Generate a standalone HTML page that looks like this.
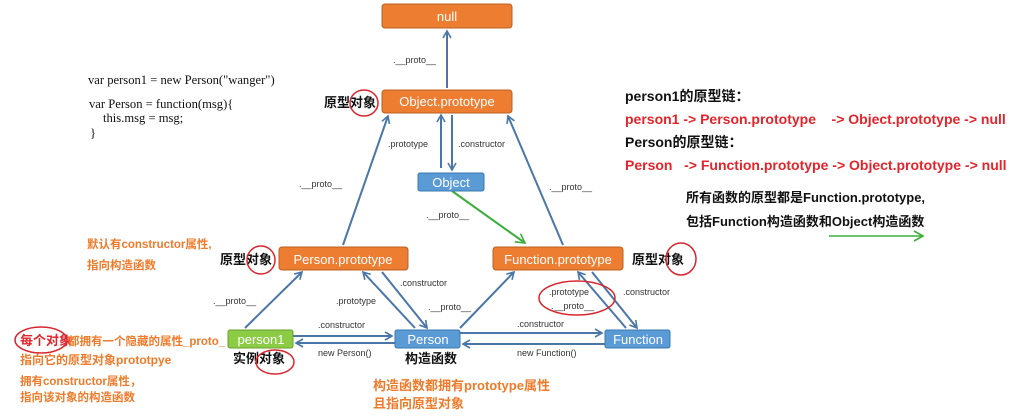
<!DOCTYPE html>
<html><head><meta charset="utf-8"><style>
body{margin:0;background:#fff}
svg text{font-family:"Liberation Sans","Noto Sans CJK SC",sans-serif}
</style></head><body>
<svg width="1017" height="414" viewBox="0 0 1017 414" xmlns="http://www.w3.org/2000/svg">
<defs>
<marker id="a" markerWidth="10" markerHeight="10" refX="8" refY="5" orient="auto" markerUnits="userSpaceOnUse"><path d="M1,1 L8,5 L1,9" fill="none" stroke="#4a76a8" stroke-width="1.6"/></marker>
<marker id="g" markerWidth="12" markerHeight="12" refX="10" refY="6" orient="auto" markerUnits="userSpaceOnUse"><path d="M1,1 L10,6 L1,11" fill="none" stroke="#3cae3c" stroke-width="1.6"/></marker>
</defs>
<g fill="none" stroke="#4a76a8" stroke-width="2" marker-end="url(#a)">
<line x1="447" y1="88" x2="447" y2="31"/>
<line x1="441" y1="168" x2="441" y2="115"/>
<line x1="452" y1="115" x2="452" y2="170"/>
<line x1="343" y1="245" x2="388" y2="116"/>
<line x1="563" y1="245" x2="508" y2="116"/>
<line x1="245" y1="328" x2="302" y2="272"/>
<line x1="415" y1="328" x2="363" y2="272"/>
<line x1="382" y1="272" x2="427" y2="328"/>
<line x1="460" y1="328" x2="514" y2="272"/>
<line x1="293" y1="336" x2="392" y2="336"/>
<line x1="395" y1="343" x2="296" y2="343"/>
<line x1="460" y1="333" x2="602" y2="333"/>
<line x1="605" y1="344" x2="463" y2="344"/>
<line x1="626" y1="328" x2="578" y2="272"/>
<line x1="592" y1="272" x2="637" y2="328"/>
</g>
<line x1="452" y1="191" x2="525" y2="243" stroke="#3cae3c" stroke-width="2" marker-end="url(#g)"/>
<line x1="829" y1="236" x2="923" y2="236" stroke="#3cae3c" stroke-width="1.5" marker-end="url(#g)"/>
<g font-size="13" fill="#fff" text-anchor="middle">
<rect x="382" y="4" width="130" height="24" rx="3" fill="#ed7d31" stroke="#b86020"/><text x="447" y="21">null</text>
<rect x="382" y="90" width="130" height="23" rx="3" fill="#ed7d31" stroke="#b86020"/><text x="447" y="106">Object.prototype</text>
<rect x="418" y="173" width="66" height="18" rx="2" fill="#5b9bd5" stroke="#3a78b0"/><text x="451" y="187">Object</text>
<rect x="279" y="247" width="129" height="23" rx="3" fill="#ed7d31" stroke="#b86020"/><text x="343" y="264">Person.prototype</text>
<rect x="493" y="247" width="130" height="23" rx="3" fill="#ed7d31" stroke="#b86020"/><text x="558" y="264">Function.prototype</text>
<rect x="228" y="330" width="65" height="18" rx="2" fill="#8ccc45" stroke="#6aa030"/><text x="261" y="344">person1</text>
<rect x="395" y="330" width="65" height="18" rx="2" fill="#5b9bd5" stroke="#3a78b0"/><text x="428" y="344">Person</text>
<rect x="605" y="330" width="65" height="18" rx="2" fill="#5b9bd5" stroke="#3a78b0"/><text x="638" y="344">Function</text>
</g>
<g font-size="9" fill="#333">
<text x="393" y="63">.__proto__</text>
<text x="388" y="147">.prototype</text>
<text x="458" y="147">.constructor</text>
<text x="299" y="187">.__proto__</text>
<text x="549" y="190">.__proto__</text>
<text x="426" y="218">.__proto__</text>
<text x="213" y="304">.__proto__</text>
<text x="336" y="304">.prototype</text>
<text x="400" y="286">.constructor</text>
<text x="428" y="310">.__proto__</text>
<text x="318" y="328">.constructor</text>
<text x="318" y="356">new Person()</text>
<text x="517" y="327">.constructor</text>
<text x="517" y="356">new Function()</text>
<text x="549" y="295">.prototype</text>
<text x="551" y="309">.__proto__</text>
<text x="623" y="295">.constructor</text>
</g>
<g font-size="12.6" fill="#111">
<text x="88" y="84" style="font-family:'Liberation Serif',serif">var person1 = new Person("wanger")</text>
<text x="89" y="108" style="font-family:'Liberation Serif',serif">var Person = function(msg){</text>
<text x="103" y="122" style="font-family:'Liberation Serif',serif">this.msg = msg;</text>
<text x="90" y="137" style="font-family:'Liberation Serif',serif">}</text>
</g>
<g font-size="13" font-weight="bold" fill="#111">
<text x="324" y="107">原型对象</text>
<text x="220" y="264">原型对象</text>
<text x="632" y="264">原型对象</text>
<text x="233" y="363">实例对象</text>
<text x="405" y="363">构造函数</text>
<text x="625" y="101" font-size="14">person1的原型链：</text>
<text x="625" y="147" font-size="14">Person的原型链：</text>
<text x="686" y="202">所有函数的原型都是Function.prototype,</text>
<text x="686" y="226">包括Function构造函数和Object构造函数</text>
</g>
<g font-size="14" font-weight="bold" fill="#e3242b">
<text x="625" y="124">person1 -&gt; Person.prototype &#160;&#160; -&gt; Object.prototype -&gt; null</text>
<text x="625" y="170">Person &#160; -&gt; Function.prototype -&gt; Object.prototype -&gt; null</text>
<text x="20" y="345" font-size="13">每个对象</text>
</g>
<g font-size="11.5" font-weight="bold" fill="#f07a2a">
<text x="87" y="248">默认有constructor属性,</text>
<text x="87" y="269">指向构造函数</text>
<text x="68" y="345">都拥有一个隐藏的属性_proto_</text>
<text x="20" y="364" font-size="12">指向它的原型对象prototpye</text>
<text x="20" y="385">拥有constructor属性，</text>
<text x="20" y="401">指向该对象的构造函数</text>
<text x="373" y="390" font-size="13">构造函数都拥有prototype属性</text>
<text x="373" y="408" font-size="13">且指向原型对象</text>
</g>
<g fill="none" stroke="#d9262e" stroke-width="1.5">
<ellipse cx="364" cy="103" rx="14" ry="13"/>
<ellipse cx="261" cy="260" rx="14" ry="14"/>
<ellipse cx="681" cy="259" rx="15" ry="16"/>
<ellipse cx="275" cy="362" rx="19" ry="12"/>
<ellipse cx="41" cy="340" rx="26" ry="13"/>
<ellipse cx="577" cy="298" rx="38" ry="17"/>
</g>
</svg>
</body></html>
